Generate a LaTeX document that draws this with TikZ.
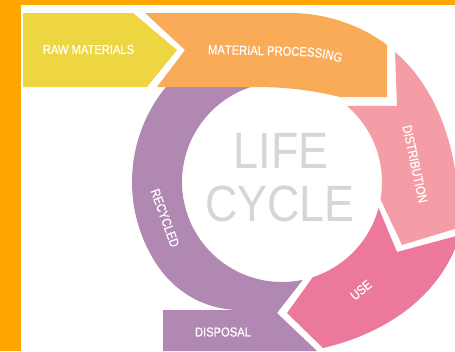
\documentclass[tikz,border=0pt]{standalone}
\usepackage{fontspec}
\newfontfamily\stagefont[FakeStretch=0.86,FakeBold=0.6]{Liberation Sans}
\newfontfamily\cyclefont[FakeStretch=0.88]{Liberation Sans}
\usetikzlibrary{calc,decorations.text}
\definecolor{frameorange}{RGB}{255,165,0}
\definecolor{rawyellow}{RGB}{238,214,66}
\definecolor{procorange}{RGB}{249,171,88}
\definecolor{recpurple}{RGB}{176,136,178}
\definecolor{distpink}{RGB}{245,157,166}
\definecolor{usepink}{RGB}{236,120,156}
\definecolor{lifegrey}{RGB}{214,214,214}

\begin{document}
\begin{tikzpicture}[x=1pt,y=-1pt,line join=bevel,
  stagetext/.style={text=white,inner sep=0pt,font=\stagefont\fontsize{13}{13}\selectfont},
  bigtext/.style={text=lifegrey,inner sep=0pt,anchor=base,font=\cyclefont\fontsize{51}{51}\selectfont}]

\useasboundingbox (0,0) rectangle (455,351);
\clip (0,0) rectangle (455,351);
\fill[frameorange] (0,0) rectangle (455,351);
\fill[white] (21,5) rectangle (455,351);

\coordinate (c) at (282,182);

\fill[recpurple] ($(c)+(78:100)$) arc[start angle=78,end angle=257,radius=100] -- ($(c)+(220:150)$) arc[start angle=220,end angle=150,radius=150] .. controls (172,292) and (205,310) .. (240,310) -- (163,310) -- (163,351) -- (317,351) -- (277,313) -- cycle;

\fill[rawyellow] (23,13) -- (133,13) -- (177,50) -- (147,87) -- (23,87) -- cycle;

\fill[procorange] (145,13) -- (290,13) .. controls (330,13) and (365,28) .. (387,45) -- (387,97) -- (340,97) .. controls (315,91) and (290,87) .. (255,87) -- (157,87) -- (185,50) -- cycle;

\fill[distpink] ($(c)+(10:100)$) arc[start angle=10,end angle=-49.5,radius=100] -- (397,106) -- (395,52) .. controls (440,90) and (462,160) .. (458,228) -- (402,245) -- cycle;

\fill[usepink] ($(c)+(15:100)$) -- (397,252) -- (460,235) .. controls (440,300) and (380,335) .. (323,348) -- (287,313) -- ($(c)+(72:100)$) arc[start angle=72,end angle=15,radius=100] -- cycle;

\node[stagetext] (raw) at (88.5,49.5) {RAW MATERIALS};
\path[decorate,decoration={text along path,text color=white,text={|\stagefont\fontsize{13}{13}\selectfont|MATERIAL PROCESSING}}] (208,54) -- (300,56) .. controls (318,56.5) and (333,59) .. (350,66);
\node[stagetext,rotate=-78] (dist) at (415,164) {DISTRIBUTION};
\node[stagetext,rotate=40] (use) at (361,290) {USE};
\node[stagetext] (disp) at (223,332) {DISPOSAL};
\node[stagetext,rotate=-70] (recyc) at (165,218) {RECYCLED};

\node[bigtext] (life) at (281,168) {LIFE};
\node[bigtext] (cycle) at (280,221) {CYCLE};

\end{tikzpicture}
\end{document}
